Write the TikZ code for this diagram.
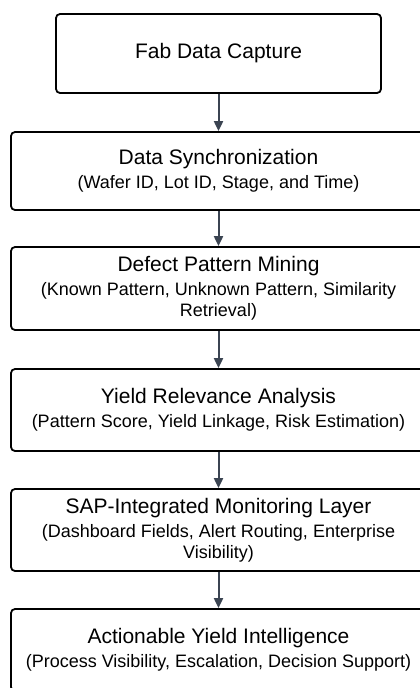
\documentclass[tikz,border=0pt]{standalone}
\usepackage{fontspec}
\setmainfont{Liberation Sans}
\usetikzlibrary{arrows.meta}
\definecolor{arrowc}{HTML}{3B4452}
\newcommand\ttlf{\fontsize{21}{24}\selectfont}
\tikzset{
  box/.style={draw=black, line width=1.8pt, rounded corners=4pt, fill=white,
    align=center, inner sep=0pt, font=\fontsize{18}{21}\selectfont},
  narrowbox/.style={box, minimum width=325pt, minimum height=79pt},
  widebox/.style={box, minimum width=415pt, minimum height=79pt},
  conn/.style={draw=arrowc, line width=2pt, -{Triangle[length=10pt,width=9pt]}},
}
\begin{document}
\begin{tikzpicture}[x=1pt,y=-1pt]
\useasboundingbox (0,0) rectangle (420,688);
\clip (0,0) rectangle (420,688);
\node[narrowbox] (n1) at (218.5,53.5) {\ttlf Fab Data Capture};
\node[widebox, minimum height=78pt] (n2) at (218.5,171) {{\ttlf Data Synchronization}\\[3pt](Wafer ID, Lot ID, Stage, and Time)};
\node[widebox, minimum height=83pt] (n3) at (218.5,288.5) {{\ttlf Defect Pattern Mining}\\[3pt](Known Pattern, Unknown Pattern, Similarity\\Retrieval)};
\node[widebox, minimum height=82pt] (n4) at (218.5,410) {{\ttlf Yield Relevance Analysis}\\[3pt](Pattern Score, Yield Linkage, Risk Estimation)};
\node[widebox, minimum height=82pt] (n5) at (218.5,530) {{\ttlf SAP-Integrated Monitoring Layer}\\[3pt](Dashboard Fields, Alert Routing, Enterprise\\Visibility)};
\node[widebox, minimum height=82pt] (n6) at (218.5,650) {{\ttlf Actionable Yield Intelligence}\\[3pt](Process Visibility, Escalation, Decision Support)};
\draw[conn] (n1) -- (n2);
\draw[conn] (n2) -- (n3);
\draw[conn] (n3) -- (n4);
\draw[conn] (n4) -- (n5);
\draw[conn] (n5) -- (n6);
\end{tikzpicture}
\end{document}
